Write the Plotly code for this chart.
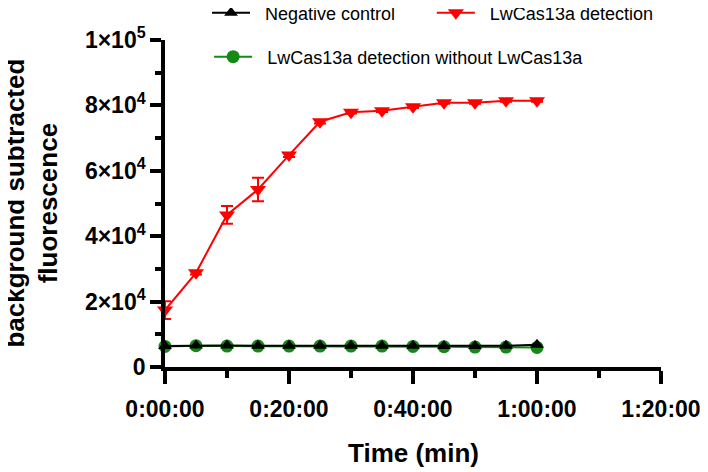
import plotly.graph_objects as go

time_min = [0, 5, 10, 15, 20, 25, 30, 35, 40, 45, 50, 55, 60]
neg_control = [6400, 6600, 6600, 6500, 6500, 6500, 6500, 6500, 6500, 6400, 6400, 6500, 6800]
detection = [17400, 28800, 46500, 54300, 64800, 75000, 77900, 78400, 79600, 80800, 80800, 81400, 81400]
detection_err = [2700, 500, 2700, 3600, 600, 500, 400, 400, 400, 300, 300, 300, 300]
no_enzyme = [6300, 6500, 6400, 6400, 6400, 6400, 6400, 6400, 6300, 6200, 6100, 6100, 6000]

x_tickvals = [0, 20, 40, 60, 80]
x_ticktext = ["0:00:00", "0:20:00", "0:40:00", "1:00:00", "1:20:00"]
y_tickvals = [0, 20000, 40000, 60000, 80000, 100000]
y_ticktext = ["0", "2×10<sup>4</sup>", "4×10<sup>4</sup>", "6×10<sup>4</sup>",
              "8×10<sup>4</sup>", "1×10<sup>5</sup>"]

FONT = "Liberation Sans, Arial, sans-serif"
PAD = "\u00a0\u00a0"

fig = go.Figure()
fig.add_trace(go.Scatter(
    x=time_min, y=no_enzyme, mode="lines+markers",
    name=PAD + "LwCas13a detection without LwCas13a",
    line=dict(color="#138a13", width=2),
    marker=dict(symbol="circle", size=13, color="#138a13"),
    cliponaxis=False, legend="legend2"))
fig.add_trace(go.Scatter(
    x=time_min, y=neg_control, mode="lines+markers",
    name=PAD + "Negative control",
    line=dict(color="black", width=2),
    marker=dict(symbol="triangle-up", size=12, color="black"),
    cliponaxis=False, legend="legend"))
fig.add_trace(go.Scatter(
    x=time_min, y=detection, mode="lines+markers",
    name=PAD + "LwCas13a detection",
    line=dict(color="#ff0000", width=2),
    marker=dict(symbol="triangle-down", size=14, color="#ff0000"),
    error_y=dict(type="data", array=detection_err, color="#ff0000", thickness=2, width=6),
    cliponaxis=False, legend="legend3"))

axis_common = dict(
    showline=True, linecolor="black", linewidth=3.5, showgrid=False, zeroline=False,
    ticks="outside", tickcolor="black", tickwidth=3.5,
    tickfont=dict(family=FONT, size=23, color="black", weight="bold"),
)

fig.update_xaxes(
    range=[0, 80], tickvals=x_tickvals, ticktext=x_ticktext, ticklen=13,
    ticklabelstandoff=6,
    minor=dict(dtick=10, ticks="outside", ticklen=7, tickwidth=3.5, tickcolor="black"),
    **axis_common)
fig.update_yaxes(
    range=[0, 100000], tickvals=y_tickvals, ticktext=y_ticktext, ticklen=11,
    minor=dict(dtick=10000, ticks="outside", ticklen=6, tickwidth=3.5, tickcolor="black"),
    **axis_common)

fig.add_annotation(
    text="<b>background subtracted<br>fluorescence</b>", textangle=-90,
    xref="paper", yref="paper", x=-0.27, y=0.5, xanchor="center", yanchor="middle",
    showarrow=False, font=dict(family=FONT, size=26, color="black"))
fig.add_annotation(
    text="<b>Time (min)</b>",
    xref="paper", yref="paper", x=0.5, y=-0.263, xanchor="center", yanchor="middle",
    showarrow=False, font=dict(family=FONT, size=26, color="black"))

legend_common = dict(orientation="h", xref="paper", yref="paper",
                     xanchor="left", yanchor="middle", itemwidth=38,
                     font=dict(family=FONT, size=18, color="black"),
                     bgcolor="rgba(0,0,0,0)")

fig.update_layout(
    width=700, height=464,
    margin=dict(l=157, r=47, t=32, b=105, autoexpand=False),
    paper_bgcolor="white", plot_bgcolor="white",
    font=dict(family=FONT, color="black"),
    showlegend=True,
    legend=dict(x=0.0847, y=1.0826, **legend_common),
    legend3=dict(x=0.538, y=1.0826, **legend_common),
    legend2=dict(x=0.089, y=0.948, **legend_common),
)

fig.write_html("out.html")
